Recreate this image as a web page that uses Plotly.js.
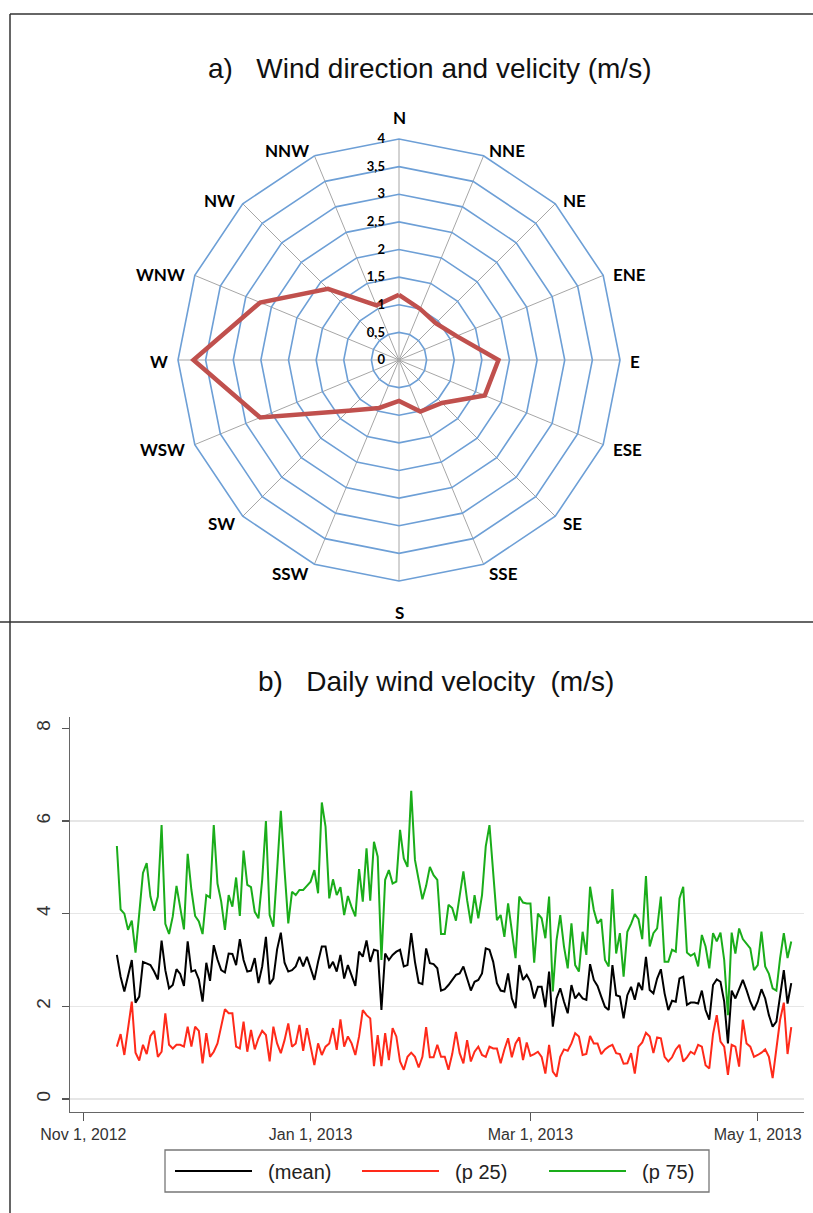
<!DOCTYPE html>
<html>
<head>
<meta charset="utf-8">
<script src="https://cdn.plot.ly/plotly-3.0.1.min.js"></script>
<style>
html,body{margin:0;padding:0;background:#fff;}
#chart{width:813px;height:1213px;}
</style>
</head>
<body>
<div id="chart"></div>
<script>
// ---------- Panel a) wind rose ----------
var directions = ['N','NNE','NE','ENE','E','ESE','SE','SSE','S','SSW','SW','WSW','W','WNW','NW','NNW'];
var windSpeed  = [1.18,1.0,0.94,1.13,1.8,1.68,1.1,1.01,0.74,0.94,1.3,2.72,3.72,2.72,1.82,1.07];
var radialTicks = [0,0.5,1,1.5,2,2.5,3,3.5,4];
var radialTickText = ['0','0,5','1','1,5','2','2,5','3','3,5','4'];

// ---------- Panel b) daily wind velocity ----------
var startDate = '2012-11-10';
var meanVel = [3.11,2.64,2.32,2.64,3.0,2.08,2.21,2.96,2.93,2.89,2.75,2.58,3.42,2.78,2.39,2.46,2.8,2.7,2.44,3.4,
 2.75,2.78,2.58,2.1,2.94,2.55,3.32,3.01,2.78,2.73,3.14,3.13,2.89,3.45,3.0,2.75,
 2.77,3.04,2.5,2.86,3.5,2.48,2.6,3.23,3.59,2.94,2.75,2.78,2.86,3.07,2.86,3.07,2.82,2.57,2.96,3.29,3.29,2.82,2.96,2.75,
 3.11,2.6,2.89,2.68,2.44,3.18,3.07,3.42,2.96,3.22,3.2,1.92,
 3.14,3.0,3.11,3.18,3.22,2.86,2.89,3.58,2.96,2.51,2.48,3.25,2.93,2.91,2.82,2.34,2.37,2.46,2.57,2.68,2.71,2.86,2.6,2.34,
 2.53,2.57,2.71,3.25,3.22,2.96,2.5,2.34,2.32,2.71,2.17,1.96,
 2.89,2.57,2.68,2.53,2.17,2.42,2.42,1.98,2.75,1.56,2.17,2.39,2.1,1.85,2.46,2.17,2.28,2.17,2.14,2.91,2.57,2.44,2.21,1.99,
 1.92,2.89,2.24,2.21,1.74,2.24,2.42,2.14,2.51,2.35,3.07,2.35,2.28,
 2.6,2.8,2.28,1.92,2.12,2.1,2.6,2.64,2.03,2.08,2.08,2.06,2.34,1.92,1.71,2.46,2.58,2.53,2.1,1.2,2.34,2.17,2.37,2.57,
 2.35,2.1,1.92,2.1,2.37,2.17,1.81,1.56,1.67,2.2,2.78,2.06,2.5];
var p25Vel = [1.13,1.4,0.95,1.56,2.1,1.0,0.83,1.17,0.97,1.36,1.47,0.91,1.02,1.85,1.17,1.09,1.17,1.17,1.13,1.56,
 1.13,1.56,1.47,0.77,1.42,0.91,1.02,1.2,1.56,1.94,1.85,1.85,1.13,1.09,1.67,1.02,
 1.49,1.07,1.31,1.47,1.38,0.81,1.56,1.2,0.99,1.27,1.63,1.13,1.2,1.6,1.04,1.53,1.13,0.73,1.2,0.95,1.13,1.2,1.53,1.06,
 1.72,1.13,1.35,1.2,0.95,1.35,1.92,1.81,1.74,0.71,1.38,0.71,
 1.42,0.84,1.53,1.35,0.81,0.63,0.91,1.0,0.91,0.68,0.91,1.55,0.9,0.9,1.17,0.91,0.91,0.63,0.97,1.45,0.99,0.77,1.27,0.81,
 1.02,1.13,0.95,0.91,1.13,1.09,1.09,0.77,1.07,1.31,0.9,1.2,
 1.33,0.84,1.22,0.93,0.97,1.02,0.91,0.55,1.17,0.59,0.48,0.91,1.07,1.04,1.2,1.42,1.35,0.95,0.97,1.36,1.2,1.2,0.97,1.07,
 1.13,1.17,0.99,0.97,0.76,0.77,0.99,0.55,1.13,1.22,1.43,1.35,0.99,
 1.33,1.31,0.91,0.81,0.9,1.07,1.17,0.81,0.9,1.02,0.97,1.17,1.13,0.73,0.66,1.4,1.81,1.24,1.13,0.52,1.17,1.13,0.7,1.71,
 1.2,1.13,0.91,0.95,1.0,1.07,0.91,0.45,1.13,1.71,2.08,0.97,1.55];
var p75Vel = [5.46,4.09,4.0,3.65,3.85,3.16,4.0,4.88,5.09,4.37,4.06,4.37,5.91,3.78,3.56,3.94,4.6,4.08,3.66,5.29,
 4.51,3.95,3.83,3.56,4.4,4.35,5.91,4.65,4.26,3.65,4.4,4.15,4.78,3.95,5.36,4.62,
 4.57,4.04,3.9,4.73,6.0,3.97,3.72,4.94,6.22,4.94,3.79,4.47,4.4,4.51,4.51,4.6,4.69,4.94,4.44,6.4,5.88,4.33,4.74,4.4,
 4.57,3.97,4.38,4.14,3.94,4.96,4.26,5.41,4.28,5.55,5.23,3.0,
 4.73,4.94,4.65,4.69,5.81,5.19,5.01,6.65,5.16,4.73,4.31,4.6,5.01,4.83,4.73,3.56,3.56,4.19,4.12,3.85,4.44,4.91,4.29,3.79,
 4.4,3.9,4.4,5.45,5.91,4.94,3.86,3.97,3.5,4.22,3.65,3.04,
 4.37,4.24,4.22,4.22,2.94,4.0,3.9,3.47,4.37,2.32,3.43,3.97,3.29,2.82,3.79,2.89,2.75,3.61,3.11,4.58,4.08,3.79,3.88,3.0,
 2.86,4.53,3.14,3.58,2.64,3.61,3.78,3.99,3.88,3.45,4.81,3.29,3.58,
 3.68,4.37,2.96,2.96,3.22,3.18,4.33,4.58,3.16,3.09,3.14,2.86,3.54,3.29,2.82,3.58,3.4,3.59,3.0,1.81,3.59,3.14,3.68,3.45,
 3.36,3.25,2.78,2.89,3.61,2.86,2.7,2.39,2.34,3.04,3.58,3.04,3.4];
var seriesNames = ['(mean)','(p 25)','(p 75)'];
var yTicks = [0,2,4,6,8];
var gridTicks = [0,2,4,6];

function dayList(start, n){
  var out = [], d0 = new Date(start + 'T00:00:00Z');
  for (var i = 0; i < n; i++){
    var d = new Date(d0.getTime() + i*86400000);
    out.push(d.toISOString().slice(0,10));
  }
  return out;
}
var dates = dayList(startDate, meanVel.length);

var W = 813, H = 1213;
function fx(px){ return px / W; }
function fy(py){ return (H - py) / H; }

// polar geometry (pixels)
var CX = 399, CY = 360, R = 221;
var legPad = '\u00A0\u00A0';

var traces = [
  {
    type:'scatterpolar', subplot:'polar',
    r: windSpeed.concat([windSpeed[0]]),
    theta: directions.concat([directions[0]]),
    mode:'lines', line:{color:'#c0504d', width:4.5},
    showlegend:false, hoverinfo:'skip'
  },
  {x:dates, y:meanVel, name:legPad + seriesNames[0], type:'scatter', mode:'lines', line:{color:'#000000', width:2}, xaxis:'x', yaxis:'y'},
  {x:dates, y:p25Vel, name:legPad + seriesNames[1], type:'scatter', mode:'lines', line:{color:'#ff2a1a', width:2}, xaxis:'x', yaxis:'y'},
  {x:dates, y:p75Vel, name:legPad + seriesNames[2], type:'scatter', mode:'lines', line:{color:'#1aad1a', width:2}, xaxis:'x', yaxis:'y'},
  {x:[dates[0]], y:[null], xaxis:'x', yaxis:'y2', showlegend:false, hoverinfo:'skip', type:'scatter', mode:'lines'}
];

// direction labels placed just outside the outer polygon, Excel style
var dirFont = {family:'Lato, Open Sans, sans-serif', size:17, color:'#000', weight:'bold'};
var annotations = [];
directions.forEach(function(d, i){
  var a = i * 22.5 * Math.PI / 180;
  var s = Math.sin(a), c = Math.cos(a);
  var vx = CX + R * s, vy = CY - R * c;
  var ann = {text:d, xref:'paper', yref:'paper', showarrow:false, font:dirFont};
  if (Math.abs(s) < 0.01) {
    ann.x = fx(vx); ann.xanchor = 'center';
    if (c > 0) { ann.y = fy(vy - 9); ann.yanchor = 'bottom'; }
    else { ann.y = fy(vy + 19); ann.yanchor = 'top'; }
  } else {
    ann.x = fx(vx + 8 * s); ann.xanchor = s > 0 ? 'left' : 'right';
    ann.y = fy(vy - 8 * c + 2); ann.yanchor = 'middle';
  }
  annotations.push(ann);
});

annotations.push(
  {text:'a)\u00A0\u00A0 Wind direction and velicity (m/s)', xref:'paper', yref:'paper',
   x:fx(429.5), y:fy(69), xanchor:'center', yanchor:'middle', showarrow:false,
   font:{size:28, color:'#111'}},
  {text:'b)\u00A0\u00A0 Daily wind velocity\u00A0 (m/s)', xref:'paper', yref:'paper',
   x:fx(436), y:fy(681), xanchor:'center', yanchor:'middle', showarrow:false,
   font:{size:28, color:'#111'}}
);

var lineCol = '#333333';
var layout = {
  width: W, height: H,
  margin:{l:0,r:0,t:0,b:0},
  paper_bgcolor:'#ffffff', plot_bgcolor:'rgba(0,0,0,0)',
  font:{family:'Liberation Sans, Arial, sans-serif', color:'#222'},
  showlegend:true,
  polar:{
    domain:{x:[fx(CX - R), fx(CX + R)], y:[fy(CY + R), fy(CY - R)]},
    gridshape:'linear',
    bgcolor:'rgba(0,0,0,0)',
    radialaxis:{
      range:[0,4], tickvals:radialTicks, ticktext:radialTickText,
      angle:90, side:'counterclockwise', tickangle:90,
      showline:false, ticks:'outside', ticklen:9, tickcolor:'rgba(0,0,0,0)',
      gridcolor:'#6d9fd6', gridwidth:1.6,
      tickfont:{family:'Lato, Open Sans, sans-serif', size:13, color:'#000', weight:'bold'}
    },
    angularaxis:{
      type:'category', categoryarray:directions, rotation:90, direction:'clockwise',
      showline:true, linecolor:'#6d9fd6', linewidth:1.6,
      gridcolor:'#a6a6a6', gridwidth:1,
      ticks:'', showticklabels:false
    }
  },
  xaxis:{
    domain:[fx(70), fx(804)],
    anchor:'y',
    type:'date',
    range:['2012-10-28 10:00','2013-05-13 10:00'],
    tick0:'2012-11-01', dtick:'M2', tickformat:'%b %-d, %Y',
    ticks:'outside', ticklen:8, tickwidth:1.2, tickcolor:'#555',
    showline:true, linecolor:'#666', linewidth:1.5,
    showgrid:false, zeroline:false,
    tickfont:{size:16, color:'#333'}
  },
  yaxis:{
    domain:[fy(1111.7), fy(716.7)],
    anchor:'x',
    range:[-0.274, 8.25],
    tickvals:yTicks, tickangle:-90,
    ticks:'outside', ticklen:7, tickwidth:1.2, tickcolor:'#555',
    showline:true, linecolor:'#666', linewidth:1.5,
    showgrid:false, zeroline:false,
    ticklabelstandoff:4,
    tickfont:{size:19, color:'#333'}
  },
  yaxis2:{
    domain:[fy(1111.7), fy(716.7)],
    overlaying:'y', anchor:'x',
    range:[-0.274, 8.25],
    tickvals:gridTicks, showticklabels:false, ticks:'',
    showgrid:true, gridcolor:'#e6e6e6', gridwidth:1.5,
    zeroline:false, showline:false
  },
  legend:{
    orientation:'h', x:fx(170), xanchor:'left', y:fy(1171), yanchor:'middle',
    borderwidth:0, bgcolor:'rgba(0,0,0,0)',
    font:{size:20, color:'#222'}, itemwidth:77,
    entrywidth:95, entrywidthmode:'pixels'
  },
  annotations: annotations,
  shapes:[
    {type:'line', xref:'paper', yref:'paper', x0:fx(10), x1:1, y0:fy(14), y1:fy(14), line:{color:lineCol, width:1.5}},
    {type:'line', xref:'paper', yref:'paper', x0:fx(10), x1:fx(10), y0:fy(14), y1:0, line:{color:lineCol, width:1.5}},
    {type:'line', xref:'paper', yref:'paper', x0:0, x1:1, y0:fy(622), y1:fy(622), line:{color:lineCol, width:1.5}},
    {type:'rect', xref:'paper', yref:'paper', x0:fx(165), x1:fx(709), y0:fy(1192), y1:fy(1150), line:{color:'#777', width:1.3}, fillcolor:'rgba(0,0,0,0)'}
  ]
};

Plotly.newPlot('chart', traces, layout, {displayModeBar:false, staticPlot:true});
</script>
</body>
</html>
